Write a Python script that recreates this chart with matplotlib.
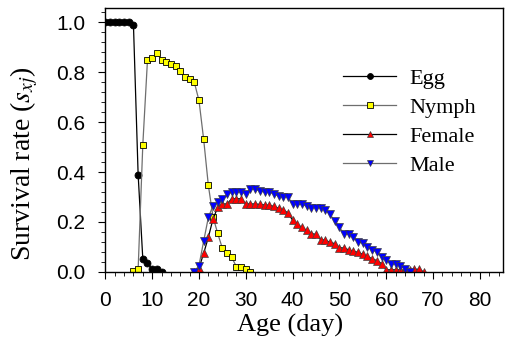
import matplotlib
matplotlib.use("Agg")
import matplotlib.pyplot as plt
from matplotlib.ticker import MultipleLocator

egg_days = list(range(0, 13))
egg_vals = [1.0, 1.0, 1.0, 1.0, 1.0, 1.0, 0.99, 0.39, 0.051, 0.034, 0.011, 0.01, 0.0]

nymph_days = list(range(6, 32))
nymph_vals = [0.003, 0.01, 0.51, 0.85, 0.856, 0.877, 0.85, 0.843, 0.833, 0.827,
              0.804, 0.783, 0.775, 0.76, 0.687, 0.531, 0.347, 0.22, 0.154, 0.094,
              0.076, 0.058, 0.02, 0.02, 0.012, 0.0]

female_days = list(range(19, 69))
female_vals = [0.0, 0.015, 0.074, 0.138, 0.212, 0.258, 0.272, 0.272, 0.293, 0.293,
               0.293, 0.272, 0.272, 0.272, 0.27, 0.268, 0.267, 0.262, 0.255, 0.248,
               0.236, 0.207, 0.19, 0.178, 0.166, 0.153, 0.15, 0.129, 0.127, 0.118,
               0.113, 0.097, 0.095, 0.088, 0.082, 0.078, 0.07, 0.062, 0.052, 0.045,
               0.033, 0.008, 0.008, 0.008, 0.008, 0.006, 0.006, 0.01, 0.01, 0.0]

male_days = list(range(19, 66))
male_vals = [0.0, 0.025, 0.123, 0.218, 0.265, 0.28, 0.29, 0.31, 0.32, 0.32,
             0.32, 0.313, 0.333, 0.33, 0.325, 0.32, 0.32, 0.313, 0.303, 0.30,
             0.30, 0.273, 0.27, 0.27, 0.263, 0.257, 0.257, 0.257, 0.249, 0.23,
             0.204, 0.178, 0.153, 0.15, 0.139, 0.12, 0.115, 0.098, 0.088, 0.08,
             0.058, 0.047, 0.033, 0.031, 0.023, 0.013, 0.0]

series_labels = ["Egg", "Nymph", "Female", "Male"]
x_ticks = [0, 10, 20, 30, 40, 50, 60, 70, 80]
y_ticks = [0.0, 0.2, 0.4, 0.6, 0.8, 1.0]

plt.rcParams['mathtext.fontset'] = 'stix'
serif = ['Liberation Serif', 'DejaVu Serif']
sans = ['Liberation Sans', 'DejaVu Sans']

fig = plt.figure(figsize=(5.14, 3.6), dpi=100)
ax = fig.add_axes([0.205, 0.245, 0.774, 0.733])

lw = 0.9
ax.plot(egg_days, egg_vals, color='black', lw=lw, marker='o', ms=5,
        mfc='black', mec='black', mew=0.6, label=series_labels[0])
ax.plot(nymph_days, nymph_vals, color='#6e6e6e', lw=lw, marker='s', ms=5,
        mfc='#ffff00', mec='black', mew=0.6, label=series_labels[1])
ax.plot(female_days, female_vals, color='black', lw=lw, marker='^', ms=5.5,
        mfc='#ff0000', mec='#404040', mew=0.5, label=series_labels[2])
ax.plot(male_days, male_vals, color='#6e6e6e', lw=lw, marker='v', ms=5.5,
        mfc='#0000ff', mec='#404040', mew=0.5, label=series_labels[3])

ax.set_xlim(0, 85)
ax.set_ylim(0, 1.058)
ax.set_xticks(x_ticks)
ax.set_yticks(y_ticks)
ax.set_xticklabels([str(t) for t in x_ticks], family=sans, fontsize=15)
ax.set_yticklabels([f"{t:.1f}" for t in y_ticks], family=sans, fontsize=15)
ax.xaxis.set_minor_locator(MultipleLocator(2))
ax.yaxis.set_minor_locator(MultipleLocator(0.04))
ax.tick_params(which='major', direction='out', length=5, width=0.8)
ax.tick_params(axis='x', which='major', pad=8.5)
ax.tick_params(axis='y', which='major', pad=9.5)
ax.tick_params(which='minor', direction='out', length=3, width=0.6)

for s in ax.spines.values():
    s.set_linewidth(1.0)

ax.set_xlabel("Age (day)", family=serif, fontsize=19)
ax.set_ylabel("Survival rate ($s_{xj}$)", family=serif, fontsize=20)
ax.xaxis.set_label_coords(0.464, -0.16)
ax.yaxis.set_label_coords(-0.165, 0.41)

leg = ax.legend(loc='upper left', bbox_to_anchor=(0.597, 0.77), frameon=False,
                prop={'family': serif, 'size': 16}, handlelength=2.4,
                handletextpad=0.6, labelspacing=0.37, markerscale=0.85,
                borderaxespad=0, borderpad=0)

fig.savefig("out.png", dpi=100)
